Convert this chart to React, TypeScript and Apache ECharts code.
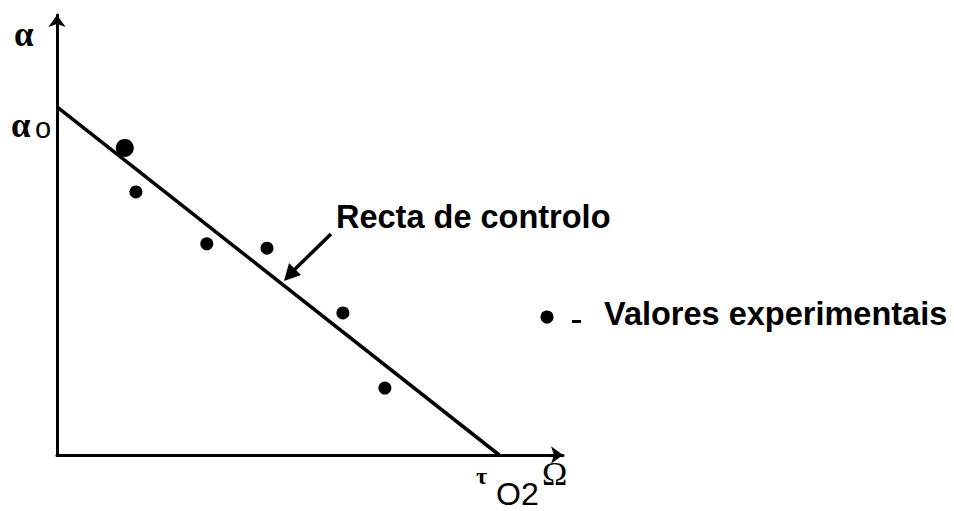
import React, { useEffect, useRef } from "react";
import * as echarts from "echarts";

// Experimental values (arbitrary units, 0..100 scale on both axes)
const pointX = [13.4, 15.6, 29.6, 41.5, 56.5, 64.8];
const pointY = [69.8, 59.8, 48.0, 47.0, 32.3, 15.2];
// Control line ("Recta de controlo"): from alpha_0 on the y axis to tau_O2 on the x axis
const lineX = [0, 87.4];
const lineY = [79.1, 0];

const yName = "α";
const yInterceptLabel = "α";
const yInterceptSub = "o";
const xInterceptLabel = "τ";
const xInterceptSub = "O2";
const xName = "Ω";
const lineLabel = "Recta de controlo";
const legendLabel = "Valores experimentais";

export default function App() {
  const ref = useRef<HTMLDivElement>(null);
  useEffect(() => {
    if (!ref.current) return;
    document.body.style.margin = "0";
    const chart = echarts.init(ref.current, undefined, { renderer: "svg" });
    const sans = "Liberation Sans, Arial, sans-serif";
    const serif = "Liberation Serif, Times New Roman, serif";
    chart.setOption({
      animation: false,
      backgroundColor: "#fff",
      grid: { left: 57, top: 15, width: 506, height: 440, containLabel: false },
      xAxis: {
        type: "value",
        min: 0,
        max: 100,
        axisLine: {
          show: true,
          onZero: false,
          symbol: ["none", "arrow"],
          symbolSize: [13, 12],
          lineStyle: { color: "#000", width: 3 },
        },
        axisTick: { show: false },
        axisLabel: { show: false },
        splitLine: { show: false },
      },
      yAxis: {
        type: "value",
        min: 0,
        max: 100,
        axisLine: {
          show: true,
          onZero: false,
          symbol: ["none", "arrow"],
          symbolSize: [13, 12],
          lineStyle: { color: "#000", width: 3 },
        },
        axisTick: { show: false },
        axisLabel: { show: false },
        splitLine: { show: false },
      },
      series: [
        {
          type: "line",
          data: lineX.map((x, i) => [x, lineY[i]]),
          showSymbol: false,
          lineStyle: { color: "#000", width: 3.5 },
          z: 2,
        },
        {
          type: "scatter",
          data: pointX.map((x, i) => [x, pointY[i]]),
          symbol: "circle",
          symbolSize: (_v: any, p: any) => (p.dataIndex === 0 ? 18 : 13),
          itemStyle: { color: "#000", opacity: 1 },
          z: 3,
        },
      ],
      graphic: [
        { type: "text", left: 14, top: 17, style: { text: yName, font: `bold 35px ${serif}`, fill: "#000" } },
        { type: "text", left: 11, top: 108, style: { text: yInterceptLabel, font: `bold 35px ${serif}`, fill: "#000" } },
        { type: "text", left: 35, top: 113, style: { text: yInterceptSub, font: `29px ${sans}`, fill: "#000" } },
        { type: "text", left: 476, top: 464, style: { text: xInterceptLabel, font: `bold 24px ${serif}`, fill: "#000" } },
        { type: "text", left: 496, top: 478, style: { text: xInterceptSub, font: `32px ${sans}`, fill: "#000" } },
        { type: "text", left: 542, top: 456, style: { text: xName, font: `34px ${serif}`, fill: "#000" } },
        { type: "text", left: 336, top: 200, style: { text: lineLabel, font: `bold 32.5px ${sans}`, fill: "#000" } },
        {
          type: "line",
          shape: { x1: 331, y1: 234, x2: 292, y2: 272 },
          style: { stroke: "#000", lineWidth: 3.5 },
        },
        {
          type: "polygon",
          shape: { points: [[284, 281], [289, 263], [301, 275]] },
          style: { fill: "#000" },
        },
        { type: "circle", shape: { cx: 547, cy: 317, r: 6.5 }, style: { fill: "#000" } },
        { type: "rect", shape: { x: 572, y: 320, width: 9, height: 3 }, style: { fill: "#000" } },
        { type: "text", left: 604, top: 297, style: { text: legendLabel, font: `bold 32.5px ${sans}`, fill: "#000" } },
      ],
    });
    return () => chart.dispose();
  }, []);
  return <div ref={ref} style={{ width: 954, height: 511 }} />;
}
